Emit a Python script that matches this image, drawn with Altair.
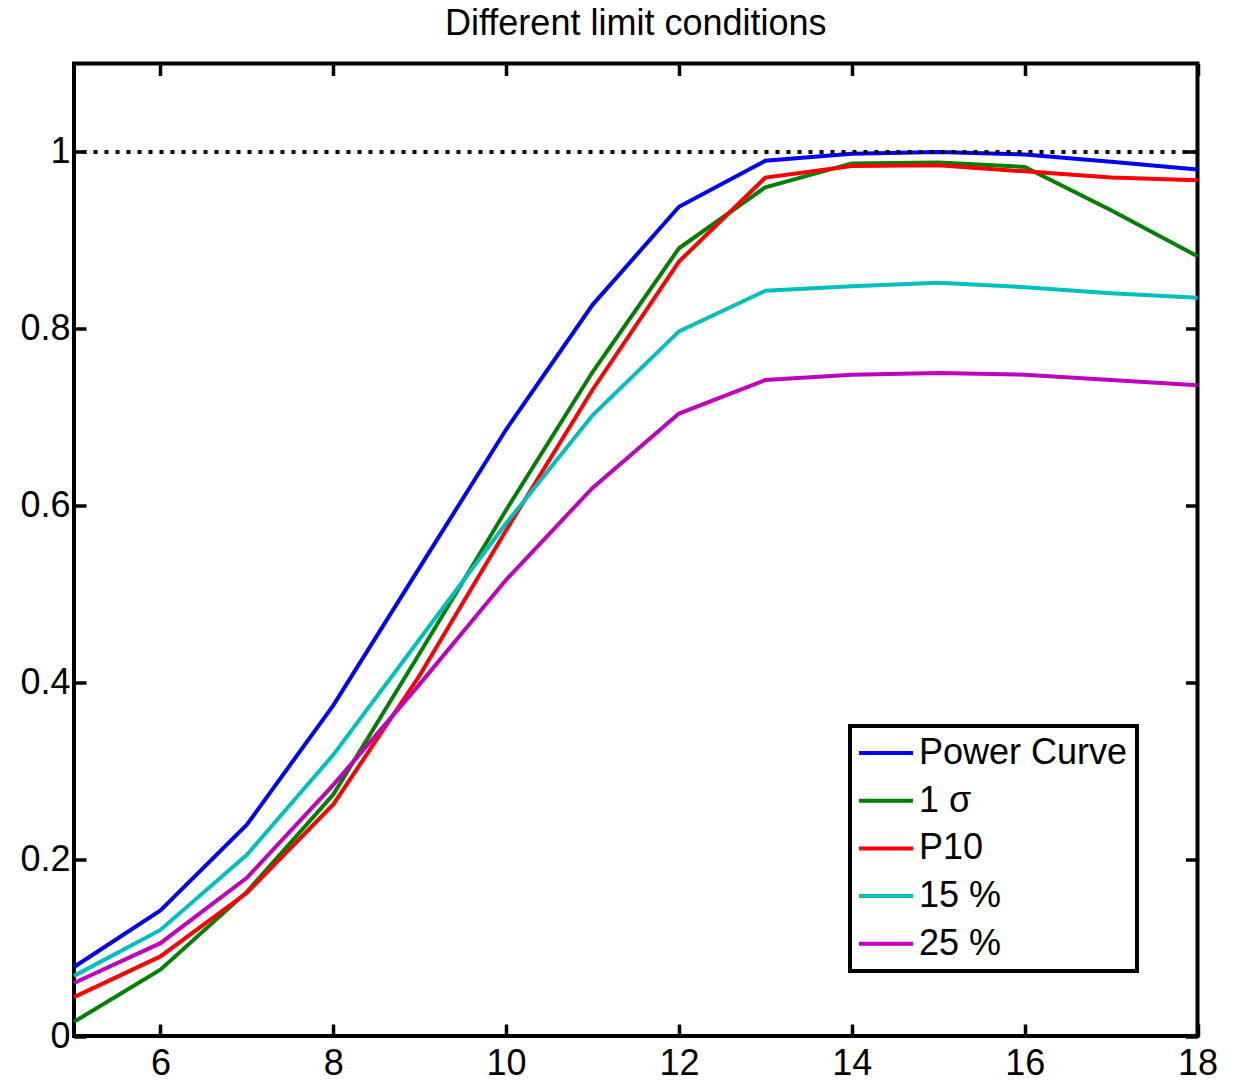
import altair as alt
import pandas as pd

x_vals = [5, 6, 7, 8, 9, 10, 11, 12, 13, 14, 15, 16, 17, 18]
series_names = ["Power Curve", "1 σ", "P10", "15 %", "25 %"]
series_colors = ["#0000FF", "#008000", "#FF0000", "#00BFBF", "#BF00BF"]

power_curve = [0.078, 0.142, 0.239, 0.374, 0.530, 0.686, 0.827, 0.938, 0.990, 0.998, 1.000, 0.997, 0.989, 0.980]
one_sigma = [0.016, 0.075, 0.163, 0.273, 0.433, 0.595, 0.751, 0.891, 0.960, 0.987, 0.988, 0.983, 0.934, 0.882]
p10 = [0.044, 0.090, 0.162, 0.262, 0.408, 0.572, 0.731, 0.876, 0.971, 0.984, 0.985, 0.978, 0.971, 0.968]
pct15 = [0.068, 0.120, 0.205, 0.318, 0.449, 0.580, 0.702, 0.797, 0.843, 0.848, 0.852, 0.847, 0.840, 0.835]
pct25 = [0.060, 0.105, 0.179, 0.284, 0.398, 0.516, 0.620, 0.704, 0.742, 0.748, 0.750, 0.748, 0.742, 0.736]

x_ticks = [6, 8, 10, 12, 14, 16, 18]
y_ticks = [0, 0.2, 0.4, 0.6, 0.8, 1]
reference_level = 1

all_series = [power_curve, one_sigma, p10, pct15, pct25]
rows = []
for order, (name, vals) in enumerate(zip(series_names, all_series)):
    for xv, yv in zip(x_vals, vals):
        rows.append({"x": xv, "y": yv, "series": name, "order": order})
df = pd.DataFrame(rows)

FONT = "Liberation Sans"
FS = 36
TICK = 12

x_scale = alt.Scale(domain=[5, 18], nice=False, zero=False)
y_scale = alt.Scale(domain=[0, 1.1], nice=False)

color = alt.Color(
    "series:N",
    scale=alt.Scale(domain=series_names, range=series_colors),
    sort=series_names,
    legend=alt.Legend(
        orient="none",
        legendX=776,
        legendY=662.5,
        title=None,
        symbolType="M-1.6875,0H1.6875",
        symbolSize=1024,
        symbolStrokeWidth=4,
        symbolOffset=9,
        labelFontSize=FS,
        labelFont=FONT,
        labelColor="black",
        labelLimit=500,
        labelOffset=15,
        rowPadding=11.7,
        padding=9,
        strokeColor="black",
        fillColor="white",
    ),
)

lines = alt.Chart(df).mark_line(strokeWidth=4).encode(
    x=alt.X(
        "x:Q",
        scale=x_scale,
        axis=alt.Axis(
            orient="bottom", values=x_ticks, offset=-TICK, tickSize=TICK, tickWidth=3.5,
            tickColor="black", domain=False, grid=False, labelFontSize=FS, labelFont=FONT,
            labelColor="black", labelPadding=10, title=None, labelFlush=False,
        ),
    ),
    y=alt.Y(
        "y:Q",
        scale=y_scale,
        axis=alt.Axis(
            orient="left", values=y_ticks, offset=-TICK, tickSize=TICK, tickWidth=3.5,
            tickColor="black", domain=False, grid=False, labelFontSize=FS, labelFont=FONT,
            labelColor="black", labelPadding=4, title=None, format=".1~f", labelFlush=False,
        ),
    ),
    color=color,
    order="order:Q",
)

mirror = alt.Chart(df).mark_line(opacity=0).encode(
    x=alt.X(
        "x:Q",
        scale=x_scale,
        axis=alt.Axis(
            orient="top", values=x_ticks, offset=-TICK, tickSize=TICK, tickWidth=3.5,
            tickColor="black", domain=False, grid=False, labels=False, title=None,
            minExtent=0,
        ),
    ),
    y=alt.Y(
        "y:Q",
        scale=y_scale,
        axis=alt.Axis(
            orient="right", values=y_ticks, offset=-TICK, tickSize=TICK, tickWidth=3.5,
            tickColor="black", domain=False, grid=False, labels=False, title=None,
            minExtent=0,
        ),
    ),
    detail="series:N",
)

ref = alt.Chart(pd.DataFrame({"level": [reference_level]})).mark_rule(
    color="black", strokeWidth=4, strokeDash=[4, 7]
).encode(
    y=alt.Y("level:Q", scale=y_scale, axis=None),
)

chart = (
    alt.layer(lines, mirror, ref)
    .resolve_axis(x="independent", y="independent")
    .properties(
        width=1123.5,
        height=972.5,
        background="white",
        autosize=alt.AutoSizeParams(type="none"),
        padding={"left": 66, "top": 55.5, "right": 27, "bottom": 44},
        title=alt.TitleParams(
            "Different limit conditions", fontSize=FS, font=FONT, fontWeight="normal",
            color="black", anchor="middle", frame="group", baseline="alphabetic", offset=-9,
        ),
    )
    .configure_view(stroke="black", strokeWidth=4)
    .configure_legend(strokeWidth=4)
)

chart.save("out.html", embed_options={"renderer": "svg", "actions": False})
